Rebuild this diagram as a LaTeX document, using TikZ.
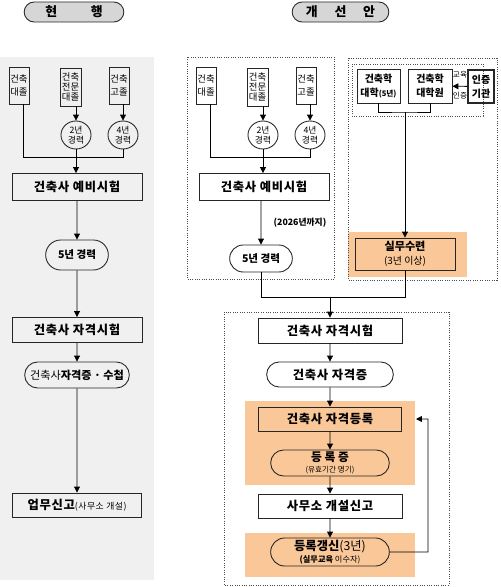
\documentclass[tikz,border=0pt]{standalone}
\usepackage{fontspec}
\setmainfont{Noto Sans CJK KR}
\usetikzlibrary{arrows.meta,shapes.geometric,shapes.misc}
\definecolor{panelgray}{RGB}{240,240,240}
\definecolor{hdrgray}{RGB}{214,214,214}
\definecolor{orangebg}{RGB}{250,200,152}
\tikzset{
  box/.style={draw=black!85, line width=0.75pt, inner sep=1pt, align=center,
    font=\bfseries\fontsize{10.5}{12}\selectfont\addfontfeature{LetterSpace=6}},
  pill/.style={box, rounded rectangle},
  smallbox/.style={draw=black!85, line width=0.75pt, inner sep=0pt, align=center,
    font=\fontsize{8}{9.5}\selectfont},
  ring/.style={ellipse, draw=black!85, line width=0.75pt, inner sep=0pt, align=center,
    font=\fontsize{7.5}{8.5}\selectfont},
  arr/.style={-{Triangle[length=5pt,width=5pt]}, line width=0.7pt},
  link/.style={line width=0.7pt},
  dotbox/.style={draw=black!70, line width=0.7pt, dash pattern=on 0.7pt off 1.3pt},
}
\begin{document}
\begin{tikzpicture}[x=0.03cm,y=-0.03cm]
    \useasboundingbox (0,0) rectangle (500,587);
    % backgrounds
    \fill[panelgray] (0,57) rectangle (154,580);
    \fill[orangebg] (348,232) rectangle (467,277);
    \fill[orangebg] (245,401) rectangle (415,485);
    \fill[orangebg] (245,533) rectangle (415,577);
    \draw[dotbox] (187,57) rectangle (334,279);
    \draw[dotbox] (348,58) rectangle (497,280);
    \draw[dotbox] (352,64) rectangle (483,116);
    \draw[dotbox] (224,312) rectangle (449,585);

    % headers
    \node[pill, fill=hdrgray, minimum width=3.06cm, minimum height=0.6cm,
      font=\bfseries\fontsize{11}{12}\selectfont] (curr) at (74,12) {현\hspace{2.6em}행};
    \node[pill, fill=hdrgray, minimum width=2.97cm, minimum height=0.6cm,
      font=\bfseries\fontsize{11}{12}\selectfont] (plan) at (340.5,12) {개\hspace{1.3em}선\hspace{1.3em}안};

    % graduates -> preliminary exam, both columns
    \foreach \s/\dx in {c/0,p/187} {
        \node[smallbox, minimum width=0.6cm, minimum height=1.11cm] (\s Univ) at (19+\dx,85.5) {건축\\[2pt]대졸};
        \node[smallbox, minimum width=0.63cm, minimum height=1.14cm,
          font=\fontsize{8}{8.8}\selectfont] (\s Coll) at (70.5+\dx,87) {건축\\전문\\대졸};
        \node[smallbox, minimum width=0.6cm, minimum height=1.11cm] (\s High) at (119+\dx,85.5) {건축\\[2pt]고졸};
        \node[ring, minimum width=0.9cm, minimum height=0.84cm] (\s Two) at (76+\dx,135) {2년\\경력};
        \node[ring, minimum width=0.9cm, minimum height=0.84cm] (\s Four) at (123+\dx,135) {4년\\경력};
        \node[box, minimum width=3.9cm, minimum height=0.81cm] (\s Pre) at (77+\dx,187) {건축사 예비시험};
        \coordinate (\s Join) at (76+\dx,157);
        \draw[arr] (\s Two |- \s Coll.south) -- (\s Two);
        \draw[arr] (\s Four |- \s High.south) -- (\s Four);
        \draw[link] ([xshift=0.12cm]\s Univ.south) |- (\s Four |- \s Join) -- (\s Four);
        \draw[arr] (\s Two) -- (\s Two |- \s Pre.north);
    }

    % current system
    \node[pill, minimum width=1.95cm, minimum height=0.9cm,
      font=\bfseries\fontsize{9}{10}\selectfont] (cFive) at (77,255) {5년 경력};
    \node[box, minimum width=3.9cm, minimum height=0.75cm] (cExam) at (77,330) {건축사 자격시험};
    \node[pill, minimum width=3.21cm, minimum height=0.78cm,
      font=\bfseries\fontsize{9.5}{11}\selectfont] (cLic) at (77,375) {{\mdseries 건축사}자격증 · 수첩};
    \node[box, minimum width=3.87cm, minimum height=0.72cm] (cOffice) at (77,505)
      {업무신고{\mdseries\fontsize{7.5}{9}\selectfont(사무소 개설)}};
    \foreach \a/\b in {cPre/cFive,cFive/cExam,cExam/cLic,cLic/cOffice}
        \draw[arr] (\a) -- (\b);

    % improved system
    \node[pill, minimum width=1.95cm, minimum height=0.81cm,
      font=\bfseries\fontsize{9}{10}\selectfont] (pFive) at (261,258.5) {5년 경력};
    \draw[arr] (pFive |- pPre.south) -- (pFive);
    \node[font=\bfseries\fontsize{7.5}{9}\selectfont, inner sep=0pt] (until) at (300,223) {(2026년까지)};

    \node[box, minimum width=1.29cm, minimum height=1.02cm,
      font=\bfseries\fontsize{8.5}{12}\selectfont] (arch) at (378.5,86)
      {건축학\\대학{\fontsize{6.5}{12}\selectfont(5년)}};
    \node[box, minimum width=1.32cm, minimum height=1.02cm,
      font=\bfseries\fontsize{8.5}{12}\selectfont] (grad) at (430,86) {건축학\\대학원};
    \node[box, line width=1.6pt, minimum width=0.78cm, minimum height=0.99cm,
      font=\bfseries\fontsize{8.5}{12}\selectfont] (accr) at (481,86.5) {인증\\기관};
    \node[font=\fontsize{6.5}{7}\selectfont, inner sep=0pt] (edu) at (460,75) {교육};
    \node[font=\fontsize{6.5}{7}\selectfont, inner sep=0pt] (cert) at (460,96) {인증};
    \draw[arr] (accr) -- (grad);
    \coordinate (archJoin) at (405,112);
    \draw[link] (arch) |- (archJoin) -| (grad);

    \node[box, fill=orangebg, minimum width=3.0cm, minimum height=0.96cm,
      font=\bfseries\fontsize{9.5}{12}\selectfont] (train) at (405,254)
      {실무수련\\{\mdseries\fontsize{8.5}{10}\selectfont(3년 이상)}};
    \draw[arr] (archJoin) -- (archJoin |- train.north);

    \coordinate (examJoin) at (330,297);
    \draw[link] (pFive) |- (examJoin);
    \draw[link] (train) |- (examJoin);

    \node[box, fill=white, minimum width=4.32cm, minimum height=0.75cm] (pExam) at (330,330.5) {건축사 자격시험};
    \draw[arr] (examJoin) -- (examJoin |- pExam.north);
    \node[pill, fill=white, minimum width=3.87cm, minimum height=0.75cm] (pLic) at (330,374.5) {건축사 자격증};
    \node[box, fill=orangebg, minimum width=4.29cm, minimum height=0.72cm] (reg) at (330,419) {건축사 자격등록};
    \node[pill, fill=orangebg, minimum width=3.63cm, minimum height=0.78cm,
      font=\bfseries\fontsize{10}{9}\selectfont] (regCard) at (330,463)
      {등 록 증\\{\mdseries\fontsize{6.5}{7}\selectfont(유효기간 명기)}};
    \node[box, fill=white, minimum width=4.32cm, minimum height=0.72cm] (office) at (330,506) {사무소 개설신고};
    \node[pill, fill=orangebg, minimum width=3.63cm, minimum height=0.84cm,
      font=\bfseries\fontsize{10.5}{10}\selectfont] (renew) at (330,552)
      {등록갱신{\mdseries(3년)}\\{\fontsize{7}{8}\selectfont(실무교육 {\mdseries 이수자)}}};
    \foreach \a/\b in {pExam/pLic,pLic/reg,reg/regCard,regCard/office,office/renew}
        \draw[arr] (\a) -- (\b);

    \coordinate (loopRight) at (428,552);
    \coordinate (loopTop) at (416,419);
    \draw[arr] (renew) -- (loopRight) |- (loopTop);
\end{tikzpicture}
\end{document}
